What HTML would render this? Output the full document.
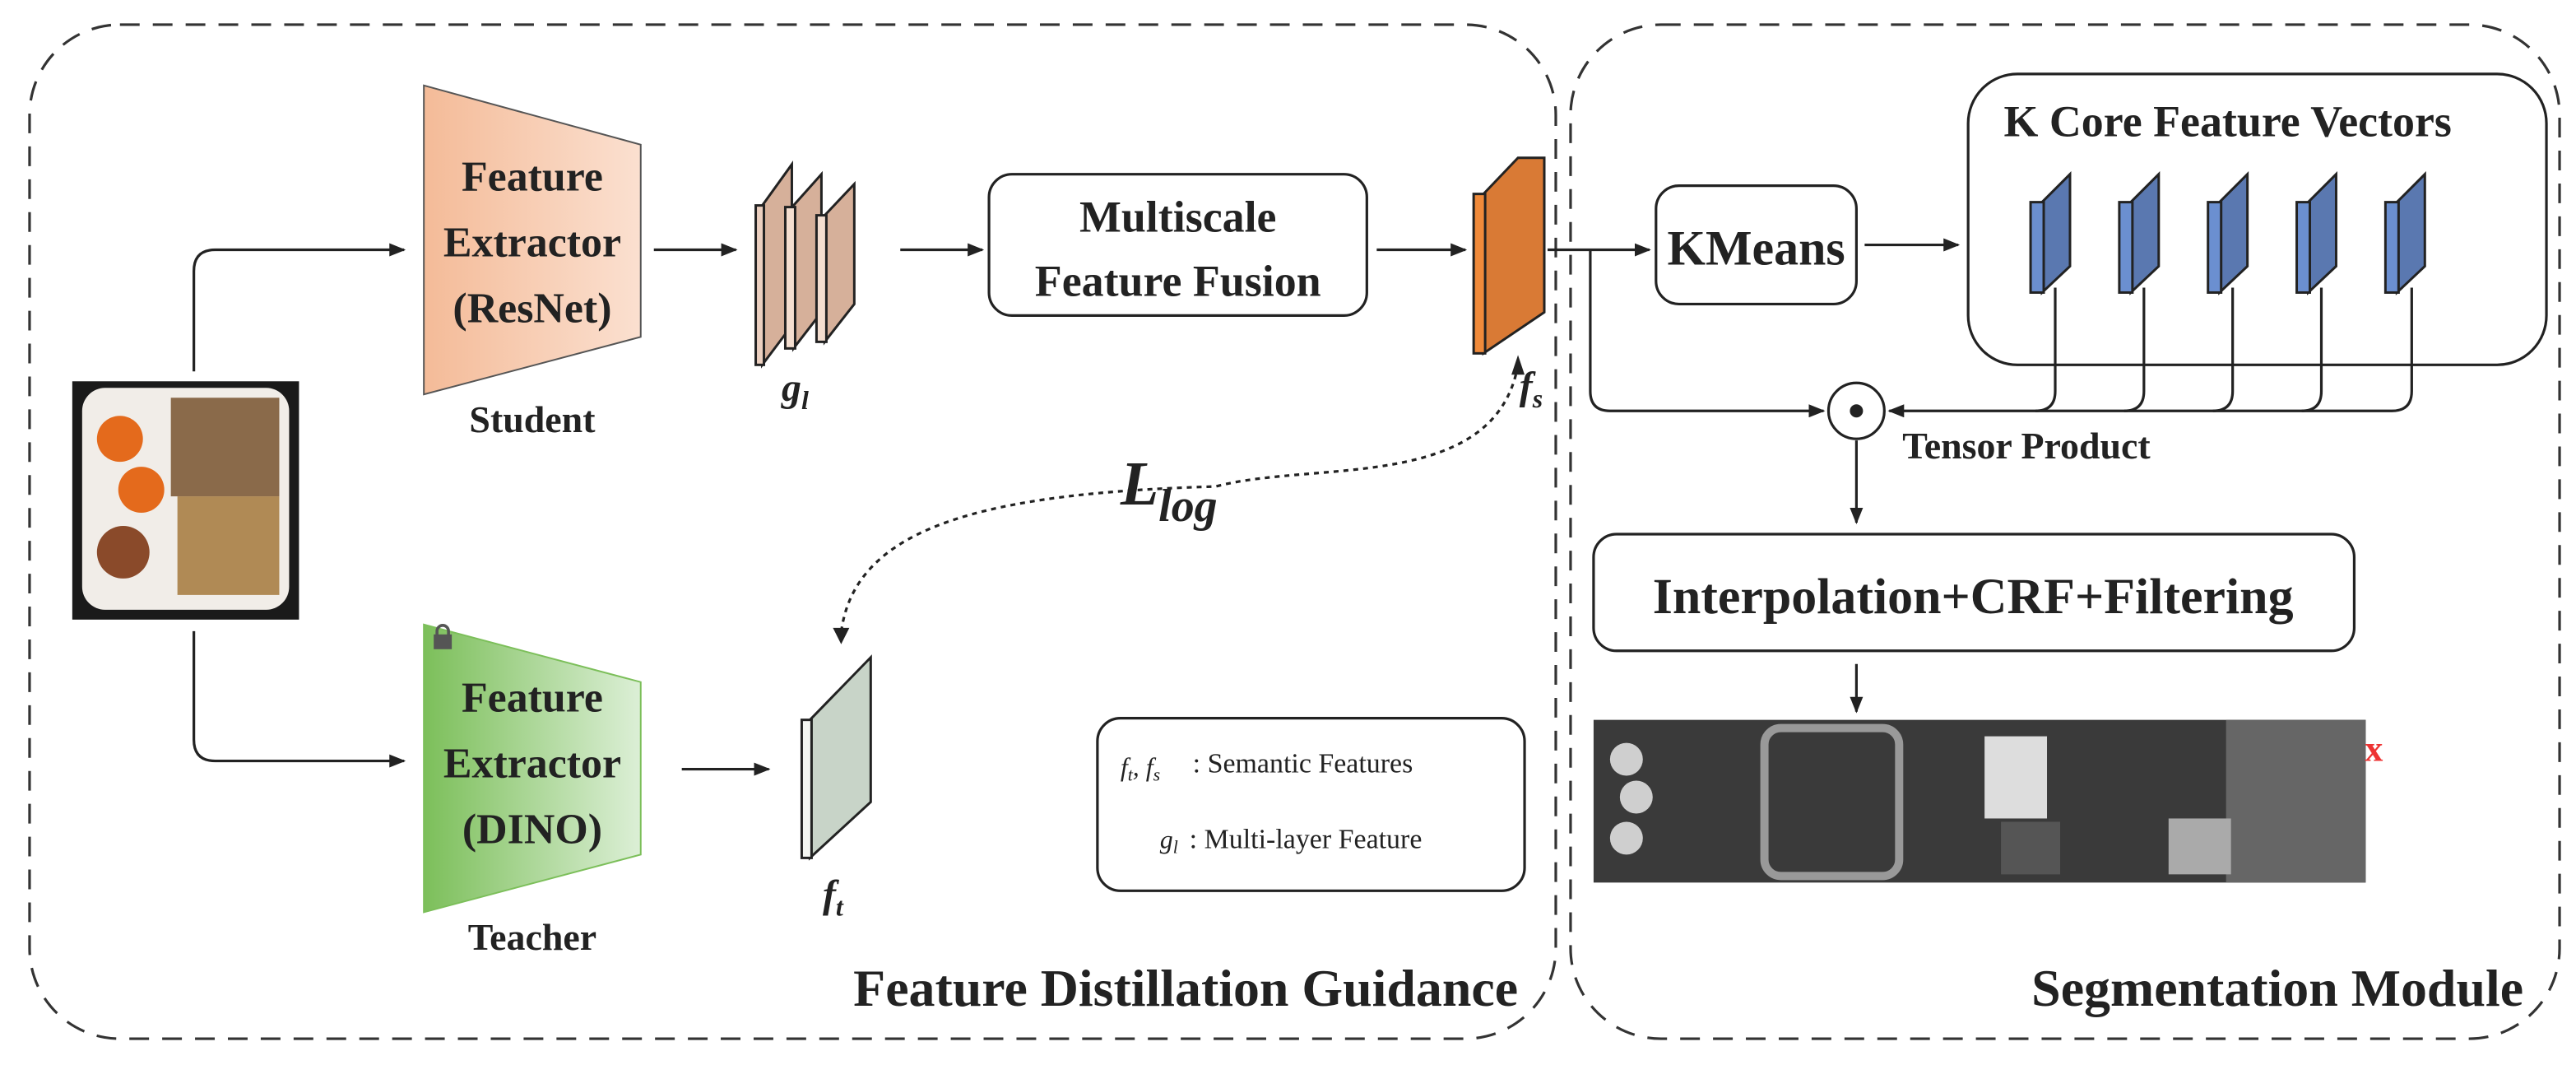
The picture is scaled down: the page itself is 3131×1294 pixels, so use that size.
<!DOCTYPE html>
<html><head><meta charset="utf-8"><style>
html,body{margin:0;padding:0;background:#fff;}
svg{display:block;}
text{font-family:"Liberation Serif",serif;font-weight:bold;fill:#222;}
text.n{font-weight:normal;}
</style></head><body>
<svg width="3131" height="1294" viewBox="0 0 1568 648" preserveAspectRatio="none" xmlns="http://www.w3.org/2000/svg">
<defs>
<marker id="ar" markerWidth="10" markerHeight="8" refX="9" refY="4" orient="auto" markerUnits="userSpaceOnUse"><path d="M0,0 L10,4 L0,8 z" fill="#222"/></marker>
<linearGradient id="pe" x1="0" x2="1"><stop offset="0" stop-color="#f4bb98"/><stop offset="1" stop-color="#fbe0d0"/></linearGradient>
<linearGradient id="gr" x1="0" x2="1"><stop offset="0" stop-color="#7cbf5a"/><stop offset="1" stop-color="#dcefd6"/></linearGradient>
</defs>
<g fill="none" stroke="#333" stroke-width="1.6" stroke-dasharray="12,8">
<rect x="18" y="15" width="929" height="617" rx="55"/>
<rect x="956" y="15" width="602" height="617" rx="55"/>
</g>
<!-- food image -->
<rect x="44" y="232" width="138" height="145" fill="#1a1a1a"/>
<rect x="50" y="236" width="126" height="135" rx="14" fill="#f1ede8"/>
<rect x="104" y="242" width="66" height="60" fill="#8a6a4a"/>
<rect x="108" y="302" width="62" height="60" fill="#b08a55"/>
<circle cx="73" cy="267" r="14" fill="#e46a1c"/>
<circle cx="86" cy="298" r="14" fill="#e46a1c"/>
<circle cx="75" cy="336" r="16" fill="#8a4a2a"/>
<g fill="none" stroke="#222" stroke-width="1.6">
<path d="M118,226 V165 Q118,152 131,152 H246" marker-end="url(#ar)"/>
<path d="M118,384 V450 Q118,463 131,463 H246" marker-end="url(#ar)"/>
<path d="M398,152 H448" marker-end="url(#ar)"/>
<path d="M548,152 H598" marker-end="url(#ar)"/>
<path d="M838,152 H892" marker-end="url(#ar)"/>
<path d="M942,152 H1004" marker-end="url(#ar)"/>
<path d="M968,152 V238 Q968,250 980,250 H1110" marker-end="url(#ar)"/>
<path d="M1135,149 H1192" marker-end="url(#ar)"/>
<path d="M415,468 H468" marker-end="url(#ar)"/>
<path d="M1130,268 V318" marker-end="url(#ar)"/>
<path d="M1130,404 V433" marker-end="url(#ar)"/>
<path d="M1468,175 V238 Q1468,250 1456,250 H1150" marker-end="url(#ar)"/>
<path d="M1251,175 V238 Q1251,250 1239,250"/>
<path d="M1305,175 V238 Q1305,250 1293,250"/>
<path d="M1359,175 V238 Q1359,250 1347,250"/>
<path d="M1413,175 V238 Q1413,250 1401,250"/>
</g>
<!-- student -->
<polygon points="258,52 390,88 390,205 258,240" fill="url(#pe)" stroke="#555" stroke-width="1"/>
<text x="324" y="116" font-size="26" text-anchor="middle">Feature</text>
<text x="324" y="156" font-size="26" text-anchor="middle">Extractor</text>
<text x="324" y="196" font-size="26" text-anchor="middle">(ResNet)</text>
<text x="324" y="263" font-size="23" text-anchor="middle">Student</text>
<!-- teacher -->
<polygon points="258,380 390,415 390,520 258,555" fill="url(#gr)" stroke="#7cbf5a" stroke-width="1"/>
<rect x="264" y="386" width="11" height="9" fill="#555"/><path d="M266,387 v-3 a3.5,3.5 0 0 1 7,0 v3" fill="none" stroke="#555" stroke-width="1.8"/>
<text x="324" y="433" font-size="26" text-anchor="middle">Feature</text>
<text x="324" y="473" font-size="26" text-anchor="middle">Extractor</text>
<text x="324" y="513" font-size="26" text-anchor="middle">(DINO)</text>
<text x="324" y="578" font-size="23" text-anchor="middle">Teacher</text>
<!-- g_l plates -->
<g stroke="#222" stroke-width="1.5">
<polygon points="464,125 482,100 482,198 464,222" fill="#d6b09a"/><rect x="460" y="125" width="5" height="97" fill="#ecd0c0"/>
<polygon points="483,125 500,106 500,190 483,212" fill="#d6b09a"/><rect x="478" y="126" width="6" height="86" fill="#f4ded0"/>
<polygon points="502,131 520,112 520,185 502,208" fill="#d6b09a"/><rect x="497" y="131" width="6" height="77" fill="#f4ded0"/>
</g>
<text x="484" y="244" font-size="24" font-style="italic" text-anchor="middle">g<tspan font-size="16" dy="5">l</tspan></text>
<!-- multiscale -->
<rect x="602" y="106" width="230" height="86" rx="14" fill="#fff" stroke="#222" stroke-width="1.6"/>
<text x="717" y="141" font-size="27" text-anchor="middle">Multiscale</text>
<text x="717" y="180" font-size="27" text-anchor="middle">Feature Fusion</text>
<!-- f_s -->
<g stroke="#222" stroke-width="1.5">
<polygon points="903,118 924,96 940,96 940,190 903,215" fill="#d97a35"/>
<rect x="897" y="118" width="7" height="97" fill="#f08a3a"/>
</g>
<text x="932" y="243" font-size="24" font-style="italic" text-anchor="middle">f<tspan font-size="16" dy="5">s</tspan></text>
<path d="M924,222 C910,300 800,280 740,296 C600,300 520,320 512,385" fill="none" stroke="#222" stroke-width="1.6" stroke-dasharray="3,3"/>
<path d="M507,382 L512,392 L517,382 z" fill="#222"/>
<path d="M920,228 L924,216 L928,228 z" fill="#222"/>
<text x="682" y="307" font-size="38" font-style="italic">L<tspan font-size="28" dy="10">log</tspan></text>
<!-- f_t -->
<g stroke="#222" stroke-width="1.5">
<polygon points="493,438 530,400 530,488 493,522" fill="#c8d4c8"/>
<rect x="488" y="438" width="6" height="84" fill="#f4f6f2"/>
</g>
<text x="507" y="552" font-size="24" font-style="italic" text-anchor="middle">f<tspan font-size="16" dy="5">t</tspan></text>
<!-- legend -->
<rect x="668" y="437" width="260" height="105" rx="14" fill="#fff" stroke="#222" stroke-width="1.6"/>
<text class="n" x="682" y="472" font-size="16" font-style="italic">f<tspan font-size="11" dy="3">t</tspan><tspan dy="-3">, f</tspan><tspan font-size="11" dy="3">s</tspan></text>
<text class="n" x="726" y="470" font-size="17">: Semantic Features</text>
<text class="n" x="706" y="516" font-size="16" font-style="italic">g<tspan font-size="11" dy="3">l</tspan></text>
<text class="n" x="724" y="516" font-size="17">: Multi-layer Feature</text>
<text x="924" y="612" font-size="32" text-anchor="end">Feature Distillation Guidance</text>
<!-- KMeans -->
<rect x="1008" y="113" width="122" height="72" rx="14" fill="#fff" stroke="#222" stroke-width="1.6"/>
<text x="1069" y="161" font-size="30" text-anchor="middle">KMeans</text>
<rect x="1198" y="45" width="352" height="177" rx="30" fill="none" stroke="#222" stroke-width="1.6"/>
<text x="1356" y="83" font-size="27" text-anchor="middle">K Core Feature Vectors</text>
<g stroke="#222" stroke-width="1.5">
<g id="bp"><polygon points="1243,123 1260,106 1260,162 1243,178" fill="#5a78b0"/><rect x="1236" y="123" width="8" height="55" fill="#6b8fd0"/></g>
<use href="#bp" x="54"/><use href="#bp" x="108"/><use href="#bp" x="162"/><use href="#bp" x="216"/>
</g>
<circle cx="1130" cy="250" r="17" fill="#fff" stroke="#222" stroke-width="1.6"/>
<circle cx="1130" cy="250" r="4" fill="#222"/>
<text x="1158" y="279" font-size="23">Tensor Product</text>
<rect x="970" y="325" width="463" height="71" rx="14" fill="#fff" stroke="#222" stroke-width="1.6"/>
<text x="1201" y="373" font-size="31" text-anchor="middle">Interpolation+CRF+Filtering</text>
<!-- seg strip -->
<rect x="970" y="438" width="470" height="99" fill="#3a3a3a"/>
<rect x="1355" y="438" width="85" height="99" fill="#666"/>
<rect x="1074" y="443" width="82" height="90" rx="10" fill="none" stroke="#999" stroke-width="5"/>
<circle cx="990" cy="462" r="10" fill="#cfcfcf"/><circle cx="996" cy="485" r="10" fill="#cfcfcf"/><circle cx="990" cy="510" r="10" fill="#cfcfcf"/>
<rect x="1208" y="448" width="38" height="50" fill="#ddd"/>
<rect x="1320" y="498" width="38" height="34" fill="#aaa"/>
<rect x="1218" y="500" width="36" height="32" fill="#555"/>
<text x="1445" y="463" font-size="22" text-anchor="middle" style="fill:#e33">x</text>
<text x="1536" y="612" font-size="32" text-anchor="end">Segmentation Module</text>
</svg>
</body></html>
